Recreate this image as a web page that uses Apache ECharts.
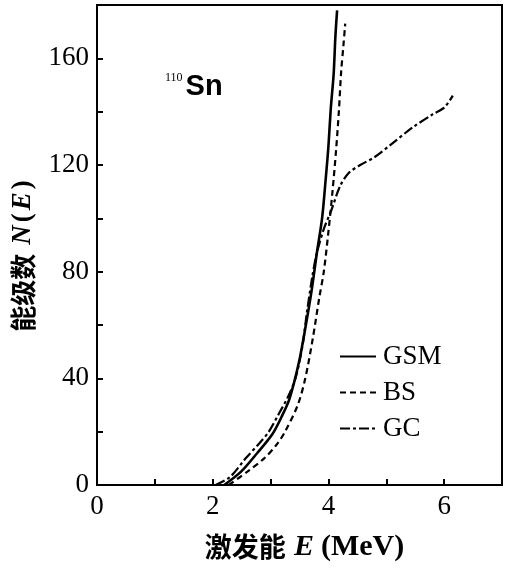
<!DOCTYPE html>
<html>
<head>
<meta charset="utf-8">
<script src="https://cdn.jsdelivr.net/npm/echarts@6/dist/echarts.min.js"></script>
<style>
  html, body { margin: 0; padding: 0; background: #fff; }
  #chart { width: 505px; height: 570px; }
</style>
</head>
<body>
<div id="chart"></div>
<script>
// GSM (solid)
const gsmE = [2.2, 2.49, 2.77, 3.03, 3.2, 3.33, 3.49, 3.61, 3.71, 3.8, 3.89, 3.95, 4.0, 4.04, 4.09, 4.12, 4.15];
const gsmN = [0, 5, 12, 19, 26, 32.5, 46, 60, 73, 87, 100, 114, 127, 141, 154, 168, 178];
// BS (dashed)
const bsE = [2.28, 2.6, 2.89, 3.1, 3.25, 3.47, 3.6, 3.73, 3.84, 3.92, 4.0, 4.07, 4.13, 4.18, 4.22, 4.26, 4.29];
const bsN = [0, 5, 10, 15, 20, 30, 40, 55, 70, 80, 95, 110, 125, 140, 155, 165, 173];
// GC (dash-dot)
const gcE = [2.05, 2.3, 2.57, 2.8, 2.97, 3.15, 3.3, 3.43, 3.55, 3.63, 3.72, 3.8, 3.92, 4.05, 4.2, 4.35, 4.55, 4.8, 5.1, 5.45, 5.8, 6.0, 6.15];
const gcN = [0, 3, 10, 15.5, 20, 27, 33, 40, 52, 65, 78, 87, 96, 103, 112, 117, 120, 123, 128, 134, 139, 141.5, 146];

const xLabels = [0, 2, 4, 6];
const yLabels = [0, 40, 80, 120, 160];

function pairs(xs, ys) {
    return xs.map((x, i) => [x, ys[i]]);
}

const serif = '"Liberation Serif", "DejaVu Serif", serif';
const cjk = '"Noto Sans CJK SC", sans-serif';

const chart = echarts.init(document.getElementById("chart"));
const option = {
    animation: false,
    grid: { left: 97, right: 2, top: 5, bottom: 85, show: true, borderColor: "#000", borderWidth: 2 },
    legend: {
        data: ["GSM", "BS", "GC"],
        orient: "vertical",
        left: 334,
        top: 338,
        itemWidth: 36,
        itemHeight: 14,
        itemGap: 9,
        itemStyle: { opacity: 0 },
        textStyle: { fontFamily: serif, fontSize: 27, color: "#000", padding: [0, 0, 0, 2] }
    },
    xAxis: {
        type: "value", min: 0, max: 7, interval: 1,
        name: "{c|激发能 }{i|E}{r|(MeV)}",
        nameLocation: "middle", nameGap: 47,
        nameTextStyle: {
            padding: [0, 0, 0, 10],
            rich: {
                c: { fontFamily: cjk, fontWeight: "bold", fontSize: 27, color: "#000" },
                i: { fontFamily: serif, fontStyle: "italic", fontWeight: "bold", fontSize: 30, color: "#000", padding: [0, 4, 0, 2] },
                r: { fontFamily: serif, fontWeight: "bold", fontSize: 30, color: "#000", padding: [0, 0, 0, 3] }
            }
        },
        axisLine: { lineStyle: { color: "#000", width: 2 } },
        axisTick: { inside: true, length: 6, lineStyle: { color: "#000", width: 2 } },
        axisLabel: {
            formatter: v => xLabels.includes(v) ? String(v) : "",
            fontFamily: serif, fontSize: 27, color: "#000", margin: 8
        },
        splitLine: { show: false }
    },
    yAxis: {
        type: "value", min: 0, max: 180, interval: 20,
        name: "{c|能级数 }{i|N}{r|(}{i|E}{r|)}",
        nameLocation: "middle", nameGap: 60,
        nameTextStyle: {
            padding: [0, 22, 0, 0],
            rich: {
                c: { fontFamily: cjk, fontWeight: "bold", fontSize: 26, color: "#000" },
                i: { fontFamily: serif, fontStyle: "italic", fontWeight: "bold", fontSize: 27, color: "#000", padding: [0, 3, 0, 3] },
                r: { fontFamily: serif, fontWeight: "bold", fontSize: 27, color: "#000" }
            }
        },
        axisLine: { lineStyle: { color: "#000", width: 2 } },
        axisTick: { inside: true, length: 6, lineStyle: { color: "#000", width: 2 } },
        axisLabel: {
            formatter: v => yLabels.includes(v) ? String(v) : "",
            fontFamily: serif, fontSize: 27, color: "#000", margin: 8
        },
        splitLine: { show: false }
    },
    graphic: [{
        type: "text", left: 165, top: 72,
        style: {
            text: "{s|110}{b|Sn}",
            rich: {
                s: { fontFamily: serif, fontSize: 12, fill: "#000", verticalAlign: "top", padding: [0, 3, 12, 0] },
                b: { fontFamily: '"Liberation Sans", sans-serif', fontWeight: "bold", fontSize: 29, fill: "#000" }
            }
        }
    }],
    series: [
        { name: "GSM", type: "line", data: pairs(gsmE, gsmN), smooth: 0.3, symbol: "none",
          itemStyle: { color: "#000" },
          lineStyle: { color: "#000", width: 2.6, type: "solid" } },
        { name: "BS", type: "line", data: pairs(bsE, bsN), smooth: 0.3, symbol: "none",
          itemStyle: { color: "#000" },
          lineStyle: { color: "#000", width: 2.2, type: [6, 4] } },
        { name: "GC", type: "line", data: pairs(gcE, gcN), smooth: 0.3, symbol: "none",
          itemStyle: { color: "#000" },
          lineStyle: { color: "#000", width: 2.2, type: [10, 3, 3, 3] } }
    ]
};
chart.setOption(option);
window.addEventListener("resize", () => chart.resize());
</script>
</body>
</html>
